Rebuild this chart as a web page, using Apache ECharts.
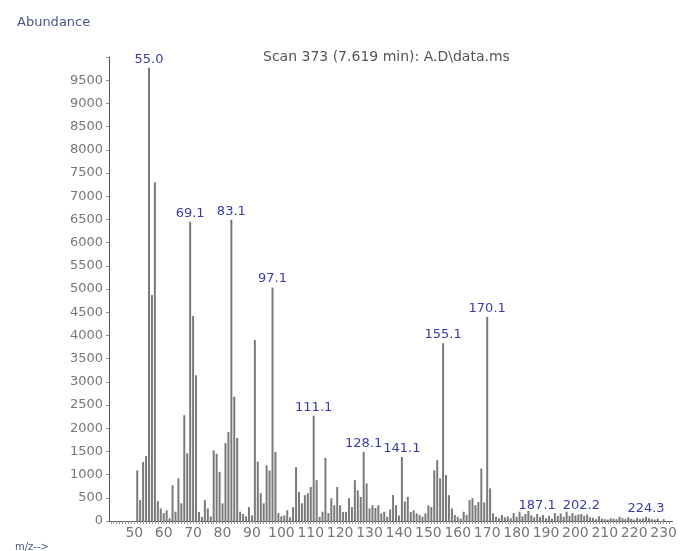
<!DOCTYPE html>
<html>
<head>
<meta charset="utf-8">
<title>Scan 373</title>
<script src="https://cdn.jsdelivr.net/npm/echarts@6/dist/echarts.min.js"></script>
</head>
<body style="margin:0;background:#fff;">
<div id="main" style="width:680px;height:551px;"></div>
<script>
// m/z positions and abundances
var mz = [51,52,53,54,55,56,57,58,59,60,61,62,63,64,65,66,67,68,69,70,
          71,72,73,74,75,76,77,78,79,80,81,82,83,84,85,86,87,88,89,90,
          91,92,93,94,95,96,97,98,99,100,101,102,103,104,105,106,107,108,109,110,
          111,112,113,114,115,116,117,118,119,120,121,122,123,124,125,126,127,128,129,130,
          131,132,133,134,135,136,137,138,139,140,141,142,143,144,145,146,147,148,149,150,
          151,152,153,154,155,156,157,158,159,160,161,162,163,164,165,166,167,168,169,170,
          171,172,173,174,175,176,177,178,179,180,181,182,183,184,185,186,187,188,189,190,
          191,192,193,194,195,196,197,198,199,200,201,202,203,204,205,206,207,208,209,210,
          211,212,213,214,215,216,217,218,219,220,221,222,223,224,225,226,227,228,230];
var abundance = [1090,450,1270,1400,9770,4870,7300,430,270,170,230,60,770,200,920,380,2280,1460,6450,4420,
          3140,195,90,450,270,100,1520,1450,1060,380,1680,1920,6490,2680,1790,200,150,100,300,120,
          3900,1280,600,380,1200,1090,5030,1490,170,100,120,230,80,300,1160,625,380,555,600,735,
          2270,880,90,200,1360,170,490,340,735,340,195,195,490,300,880,660,520,1490,810,270,
          340,280,340,165,200,90,250,560,340,120,1380,420,520,195,230,165,130,90,165,340,
          300,1090,1310,920,3830,990,555,270,130,90,50,200,130,450,490,340,410,1130,400,4400,
          705,165,90,60,130,80,100,60,170,90,200,100,150,220,120,80,150,90,130,60,
          110,50,170,110,160,90,200,110,170,120,140,150,110,140,80,70,40,100,50,40,
          30,60,50,40,90,60,40,80,50,30,70,40,60,90,60,40,30,50,40];
// peaks that carry a text label
var labelledMz = [55,69,83,97,111,128,141,155,170,187,202,224];
var labelText  = ['55.0','69.1','83.1','97.1','111.1','128.1','141.1','155.1','170.1','187.1','202.2','224.3'];
var xTicks = [50,60,70,80,90,100,110,120,130,140,150,160,170,180,190,200,210,220,230];

var minorTicks = [];
for (var t = 42; t <= 232; t++) minorTicks.push(t);

var data = mz.map(function (m, i) {
    var k = labelledMz.indexOf(m);
    var item = { value: [m, abundance[i]] };
    if (k >= 0) {
        item.label = { show: true, formatter: labelText[k] };
    }
    return item;
});

var chart = echarts.init(document.getElementById('main'));
chart.setOption({
    backgroundColor: '#fff',
    animation: false,
    textStyle: { fontFamily: 'DejaVu Sans' },
    title: [
        { text: 'Abundance', left: 12, top: 11,
          textStyle: { color: '#4a5590', fontSize: 13, fontWeight: 'normal' } },
        { text: 'Scan 373 (7.619 min): A.D\\data.ms', left: 258, top: 45,
          textStyle: { color: '#555', fontSize: 14, fontWeight: 'normal' } },
        { text: 'm/z-->', left: 10, top: 537,
          textStyle: { color: '#4a5590', fontSize: 10, fontWeight: 'normal' } }
    ],
    grid: { left: 109, right: 2, top: 57, bottom: 30 },
    xAxis: {
        type: 'value',
        min: 41.4,
        max: 233,
        splitLine: { show: false },
        axisLine: { lineStyle: { color: '#555', width: 1 } },
        axisTick: { show: true, customValues: minorTicks, length: 3,
                    lineStyle: { color: '#999' } },
        axisLabel: { customValues: xTicks, color: '#777', fontSize: 14, margin: 5 }
    },
    yAxis: {
        type: 'value',
        min: 0,
        max: 10000,
        interval: 500,
        splitLine: { show: false },
        axisLine: { show: true, lineStyle: { color: '#555', width: 1 } },
        axisTick: { show: true, length: 3, lineStyle: { color: '#999' } },
        axisLabel: {
            color: '#777', fontSize: 13, margin: 6,
            formatter: function (v) { return v >= 10000 ? '' : v; }
        }
    },
    series: [{
        type: 'bar',
        barWidth: 2,
        data: data,
        itemStyle: { color: '#7a7a7a' },
        label: { show: false, position: 'top', distance: 2,
                 color: '#3b3bb0', fontSize: 13 }
    }]
});
</script>
</body>
</html>
